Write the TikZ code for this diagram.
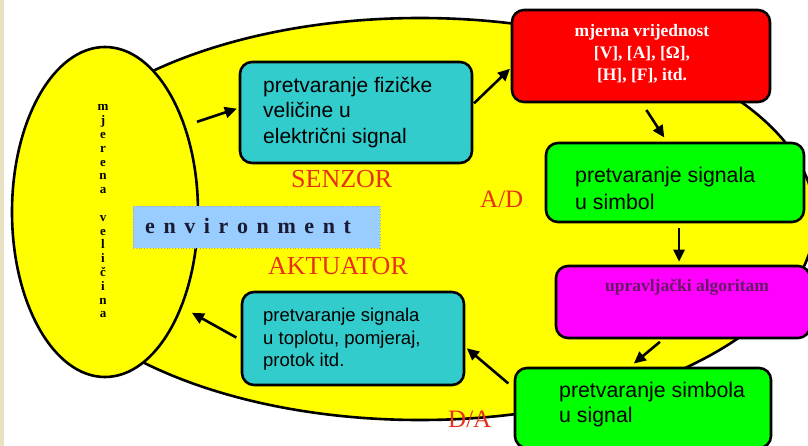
\documentclass[tikz,border=0pt]{standalone}
\usepackage{fontspec}
\setmainfont{Liberation Serif}
\newfontfamily\arialfont{Liberation Sans}
\usetikzlibrary{arrows.meta,shapes.geometric,calc}

\definecolor{stripbeige}{RGB}{233,226,194}
\definecolor{blobyellow}{RGB}{255,255,0}
\definecolor{boxcyan}{RGB}{51,204,204}
\definecolor{boxred}{RGB}{255,0,0}
\definecolor{boxgreen}{RGB}{0,255,0}
\definecolor{boxmagenta}{RGB}{255,0,255}
\definecolor{envblue}{RGB}{153,204,255}
\definecolor{envtext}{RGB}{26,26,51}
\definecolor{labelred}{RGB}{232,48,24}
\definecolor{algtext}{RGB}{105,25,105}

\newcommand\envgap{\hspace{8.6pt}}

\tikzset{
  outline/.style={draw=black, line width=2.6pt},
  blobshape/.style={outline, fill=blobyellow, ellipse, inner sep=0pt},
  procbox/.style={outline, rounded corners=12pt, inner sep=0pt, anchor=center},
  sanstext/.style={inner sep=0pt, anchor=west, align=left, text=black},
  redlabel/.style={inner sep=0pt, anchor=base west, text=labelred,
    font=\fontsize{26}{26}\selectfont},
  arr/.style={line width=2.6pt, -{Triangle[length=12pt,width=11pt]}},
}

\begin{document}
\begin{tikzpicture}[x=1pt,y=-1pt]
\useasboundingbox (0,0) rectangle (808,446);
\clip (0,0) rectangle (808,446);

% page margin strip
\fill[stripbeige] (0,0) rectangle (4,446);

% large loop region and the measured-quantity ellipse
\node[blobshape, minimum width=790pt, minimum height=402pt] (loop) at (420,219) {};
\node[blobshape, minimum width=186pt, minimum height=330pt] (ell) at (105,212) {};
\node[inner sep=0pt, align=center, font=\bfseries\fontsize{13}{13.8}\selectfont]
  (elltxt) at (103,211.5)
  {m\\j\\e\\r\\e\\n\\a\\\mbox{}\\v\\e\\l\\i\\č\\i\\n\\a};

% process boxes
\node[procbox, fill=boxcyan, minimum width=232pt, minimum height=101pt] (c1) at (356,112.5) {};
\node[procbox, fill=boxred, minimum width=258pt, minimum height=92pt] (red) at (641,56) {};
\node[procbox, fill=boxgreen, minimum width=258pt, minimum height=79pt] (g1) at (675,182.5) {};
\node[procbox, fill=boxmagenta, minimum width=254pt, minimum height=72pt] (mag) at (683,302) {};
\node[procbox, fill=boxgreen, minimum width=256pt, minimum height=80pt] (g2) at (643,408) {};
\node[procbox, fill=boxcyan, minimum width=222pt, minimum height=93pt] (c2) at (353,338.5) {};

% environment tag
\node[draw=gray!70, dotted, line width=0.8pt, fill=envblue, minimum width=247pt,
  minimum height=42pt, inner sep=0pt] (env) at (256.5,227) {};
\node[inner sep=0pt, anchor=base west, text=envtext, font=\bfseries\fontsize{22}{22}\selectfont]
  (envtxt) at (145,234)
  {e\envgap n\envgap v\envgap i\envgap r\envgap o\envgap n\envgap m\envgap e\envgap n\envgap t};

% box texts
\node[sanstext, font=\arialfont\fontsize{21}{25.5}\selectfont] (c1txt) at (263,112.5)
  {pretvaranje fizičke\\veličine u\\električni signal};
\node[inner sep=0pt, align=center, text=white, font=\bfseries\fontsize{17.5}{22}\selectfont]
  (redtxt) at (642,54) {mjerna vrijednost\\{}[V], [A], [Ω],\\{}[H], [F], itd.};
\node[sanstext, font=\arialfont\fontsize{21.3}{26.5}\selectfont] (g1txt) at (575,188.5)
  {pretvaranje signala\\u simbol};
\node[inner sep=0pt, text=algtext, font=\bfseries\fontsize{17.5}{20}\selectfont]
  (magtxt) at (687,287) {upravljački algoritam};
\node[sanstext, font=\arialfont\fontsize{21.3}{25}\selectfont] (g2txt) at (559,404.5)
  {pretvaranje simbola\\u signal};
\node[sanstext, font=\arialfont\fontsize{18.5}{22.5}\selectfont] (c2txt) at (263,339.5)
  {pretvaranje signala\\u toplotu, pomjeraj,\\protok itd.};

% signal flow
\draw[arr, shorten <=12pt, shorten >=2pt] (ell.47) -- ([yshift=4.5pt]c1.west);
\draw[arr, shorten <=1pt, shorten >=1pt] ([yshift=8.5pt]c1.east) -- ([yshift=-12pt]red.west);
\draw[arr, shorten <=8pt, shorten >=5pt] ([xshift=1pt]red.south) -- ([xshift=-8pt]g1.north);
\draw[arr, shorten <=5pt, shorten >=3pt] ([xshift=4pt]g1.south) -- ([xshift=-4pt]mag.north);
\draw[arr, shorten <=4pt, shorten >=5pt] ([xshift=-20pt]mag.south) -- ([xshift=-13pt]g2.north);
\draw[arr, shorten <=7pt, shorten >=2pt] ([yshift=20pt]g2.west) -- ([yshift=-8.5pt]c2.east);
\draw[arr, shorten <=5pt, shorten >=11pt] ([yshift=-1.5pt]c2.west) -- (ell.-51);

% stage labels
\node[redlabel] (senzor) at (291,188) {SENZOR};
\node[redlabel] (aktuator) at (268,275) {AKTUATOR};
\node[redlabel, font=\fontsize{25}{25}\selectfont] (ad) at (480,208) {A/D};
\node[redlabel, font=\fontsize{25}{25}\selectfont] (da) at (448,427) {D/A};
\end{tikzpicture}
\end{document}
